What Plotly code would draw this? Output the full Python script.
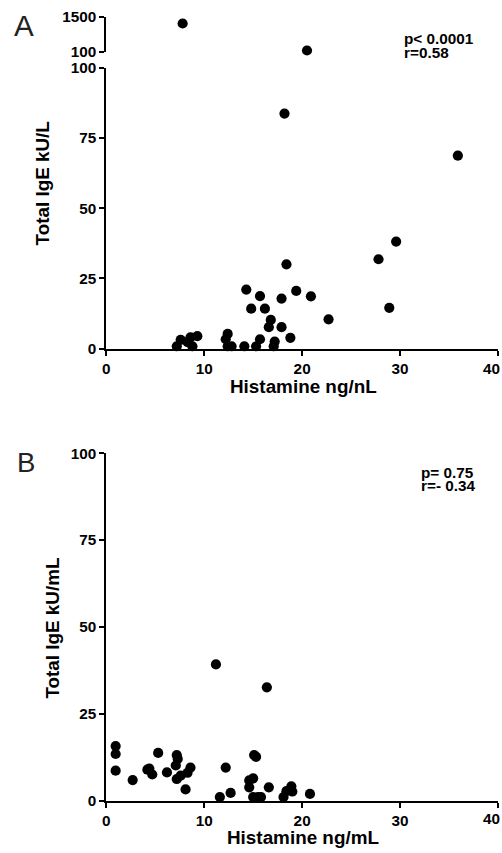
import plotly.graph_objects as go

# ---- Data ----
# Panel A (main segment 0-100)
a_x = [18.2, 35.9, 29.6, 27.8, 18.4, 14.3, 19.4, 15.7, 20.9, 17.9, 14.8, 16.2, 28.9,
       22.7, 16.8, 16.6, 17.9, 18.8, 17.2, 17.1, 15.7, 15.3, 14.1, 12.4, 12.2, 12.4,
       12.8, 9.3, 8.6, 7.6, 7.2, 8.8, 8.3]
a_y = [83.7, 68.7, 38.1, 31.8, 30.0, 21.0, 20.5, 18.7, 18.6, 17.8, 14.2, 14.2, 14.5,
       10.4, 10.2, 7.6, 7.6, 3.8, 2.5, 0.8, 3.3, 0.8, 0.8, 5.2, 3.3, 0.8,
       0.8, 4.4, 4.0, 3.1, 0.8, 0.8, 2.3]
# Panel A (upper broken segment 100-1500)
a_hi_x = [7.8, 20.5]
a_hi_y = [1220, 140]

# Panel B
b_x = [11.2, 16.4, 0.96, 0.96, 0.96, 2.7, 5.3, 4.2, 4.4, 4.7, 6.2, 7.2, 7.3, 7.1, 7.2,
       7.6, 8.3, 8.6, 8.1, 12.2, 11.6, 12.7, 15.1, 15.3, 14.6, 15.0, 14.6, 15.0, 15.5,
       15.8, 16.6, 18.1, 18.4, 18.9, 19.0, 20.8]
b_y = [39.2, 32.6, 15.7, 13.4, 8.6, 5.9, 13.7, 8.9, 9.2, 7.5, 8.1, 13.1, 12.0, 10.1, 6.2,
       7.2, 8.0, 9.5, 3.2, 9.5, 1.0, 2.2, 13.1, 12.6, 5.8, 6.4, 3.8, 1.0, 1.0,
       1.0, 3.8, 1.0, 2.7, 4.1, 2.6, 1.9]

x_ticks = [0, 10, 20, 30, 40]
x_labels = ["0", "10", "20", "30", "40"]
y_ticks = [0, 25, 50, 75, 100]
hi_ticks = [100, 1500]

W, H = 502, 853
FONT = "Liberation Sans, Arial, sans-serif"

# layout helpers (target pixel positions -> paper coordinates)
S, BX, BY = 0.98, 3.0, 8.5


def px(x):
    return ((x - BX) / S) / W


def py(y):
    return 1 - ((y - BY) / S) / H


def fs(size):
    return size / S


marker = dict(color="black", size=fs(10))
fig = go.Figure()
fig.add_trace(go.Scatter(x=a_x, y=a_y, mode="markers", marker=marker,
                         xaxis="x", yaxis="y", cliponaxis=False, showlegend=False))
fig.add_trace(go.Scatter(x=a_hi_x, y=a_hi_y, mode="markers", marker=marker,
                         xaxis="x3", yaxis="y3", cliponaxis=False, showlegend=False))
fig.add_trace(go.Scatter(x=b_x, y=b_y, mode="markers", marker=marker,
                         xaxis="x2", yaxis="y2", cliponaxis=False, showlegend=False))

tickfont = dict(family=FONT, size=fs(15), color="black", weight="bold")
common = dict(showline=True, linecolor="black", linewidth=2, ticks="outside",
              ticklen=5, tickwidth=2, tickcolor="black", showgrid=False,
              zeroline=False, tickfont=tickfont)
xdom = [px(104), px(491)]
# last x label is placed as an annotation so it stays inside the page
x_text = x_labels[:-1] + [""]

fig.update_layout(
    width=W, height=H,
    margin=dict(l=0, r=0, t=0, b=0),
    paper_bgcolor="white", plot_bgcolor="white",
    xaxis=dict(domain=xdom, anchor="y", range=[0, 40], tickvals=x_ticks,
               ticktext=x_text, **common),
    yaxis=dict(domain=[py(348), py(67.3)], anchor="x", range=[0, 100],
               tickvals=y_ticks, **common),
    xaxis3=dict(domain=xdom, anchor="y3", range=[0, 40], visible=False),
    yaxis3=dict(domain=[py(51), py(16)], anchor="x3", range=[100, 1500],
                tickvals=hi_ticks, **common),
    xaxis2=dict(domain=xdom, anchor="y2", range=[0, 40], tickvals=x_ticks,
                ticktext=x_text, **common),
    yaxis2=dict(domain=[py(800), py(452.7)], anchor="x2", range=[0, 100],
                tickvals=y_ticks, **common),
)

title_font = dict(family=FONT, size=fs(18.5), color="black", weight="bold")
ann_font = dict(family=FONT, size=fs(15), color="black", weight="bold")
anns = [
    dict(text="A", x=px(23), y=py(25), xanchor="center", yanchor="middle",
         font=dict(family=FONT, size=fs(29), color="#222")),
    dict(text="B", x=px(25), y=py(462), xanchor="center", yanchor="middle",
         font=dict(family=FONT, size=fs(27), color="#222")),
    dict(text="Total IgE kU/L", x=px(41.5), y=py(183), textangle=-90,
         xanchor="center", yanchor="middle", font=title_font),
    dict(text="Histamine ng/nL", x=px(299), y=py(386), xanchor="center",
         yanchor="middle", font=title_font),
    dict(text="Total IgE kU/mL", x=px(50), y=py(627.5), textangle=-90,
         xanchor="center", yanchor="middle", font=title_font),
    dict(text="Histamine ng/mL", x=px(298.5), y=py(836.5), xanchor="center",
         yanchor="middle", font=title_font),
    dict(text="p< 0.0001", x=px(396), y=py(38), xanchor="left",
         yanchor="middle", font=ann_font),
    dict(text="r=0.58", x=px(396), y=py(52), xanchor="left",
         yanchor="middle", font=ann_font),
    dict(text="p= 0.75", x=px(413), y=py(471.5), xanchor="left",
         yanchor="middle", font=ann_font),
    dict(text="r=- 0.34", x=px(413), y=py(484.5), xanchor="left",
         yanchor="middle", font=ann_font),
    dict(text=x_labels[-1], x=1.0, y=py(368), xanchor="right",
         yanchor="middle", font=tickfont),
    dict(text=x_labels[-1], x=1.0, y=py(818.3), xanchor="right",
         yanchor="middle", font=tickfont),
]
for a in anns:
    a.update(xref="paper", yref="paper", showarrow=False)
fig.update_layout(annotations=anns)

fig.write_html("out.html", config={"displayModeBar": False},
               post_script="document.body.style.margin='0';"
                           "document.body.style.overflow='hidden';")
